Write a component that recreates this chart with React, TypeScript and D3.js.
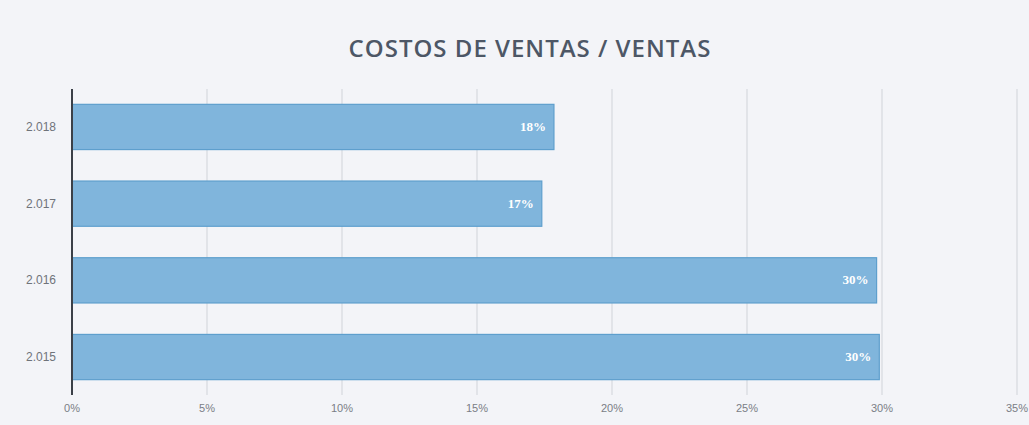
import * as d3 from "d3";

const years = ["2.018", "2.017", "2.016", "2.015"];
const ratios = [17.85, 17.4, 29.8, 29.9];
const labels = ["18%", "17%", "30%", "30%"];
const ticks = [0, 5, 10, 15, 20, 25, 30, 35];

const W = 1029;
const H = 425;

export default function App() {
  const x = d3.scaleLinear().domain([0, 35]).range([72, 1017]);
  const y = d3.scaleBand().domain(years).range([89, 395]).paddingInner(0.41).paddingOuter(0.2);

  return (
    <svg width={W} height={H} style={{ position: "absolute", left: 0, top: 0, background: "#f3f4f8" }}>
      <rect x={0} y={0} width={W} height={H} fill="#f3f4f8" />
      <text x={530} y={57} textAnchor="middle" fontFamily="'Open Sans', Lato, sans-serif" fontSize={24} fontWeight={600} letterSpacing={1} fill="#4d5766">
        COSTOS DE VENTAS / VENTAS
      </text>
      {ticks.slice(1).map((t) => (
        <line key={t} x1={x(t)} x2={x(t)} y1={89} y2={395} stroke="#d0d3d9" strokeWidth={1} />
      ))}
      {ratios.map((v, i) => (
        <g key={years[i]}>
          <rect
            x={x(0)}
            y={y(years[i])}
            width={x(v) - x(0)}
            height={y.bandwidth()}
            fill="#80b5dc"
            stroke="#5e9fcd"
            strokeWidth={1.2}
          />
          <text
            x={x(v) - 8}
            y={(y(years[i]) as number) + y.bandwidth() / 2 + 4}
            textAnchor="end"
            fontFamily="'Liberation Serif', serif"
            fontSize={13}
            fontWeight={700}
            fill="#ffffff"
          >
            {labels[i]}
          </text>
          <text
            x={56}
            y={(y(years[i]) as number) + y.bandwidth() / 2 + 4}
            textAnchor="end"
            fontFamily="'Liberation Sans', Arial, sans-serif"
            fontSize={12}
            fill="#6f737a"
          >
            {years[i]}
          </text>
        </g>
      ))}
      <line x1={72} x2={72} y1={89} y2={395} stroke="#3b4048" strokeWidth={2} />
      {ticks.map((t) => (
        <text
          key={t}
          x={x(t)}
          y={412}
          textAnchor="middle"
          fontFamily="'Liberation Sans', Arial, sans-serif"
          fontSize={11}
          fill="#7a7e86"
        >
          {t}%
        </text>
      ))}
    </svg>
  );
}
